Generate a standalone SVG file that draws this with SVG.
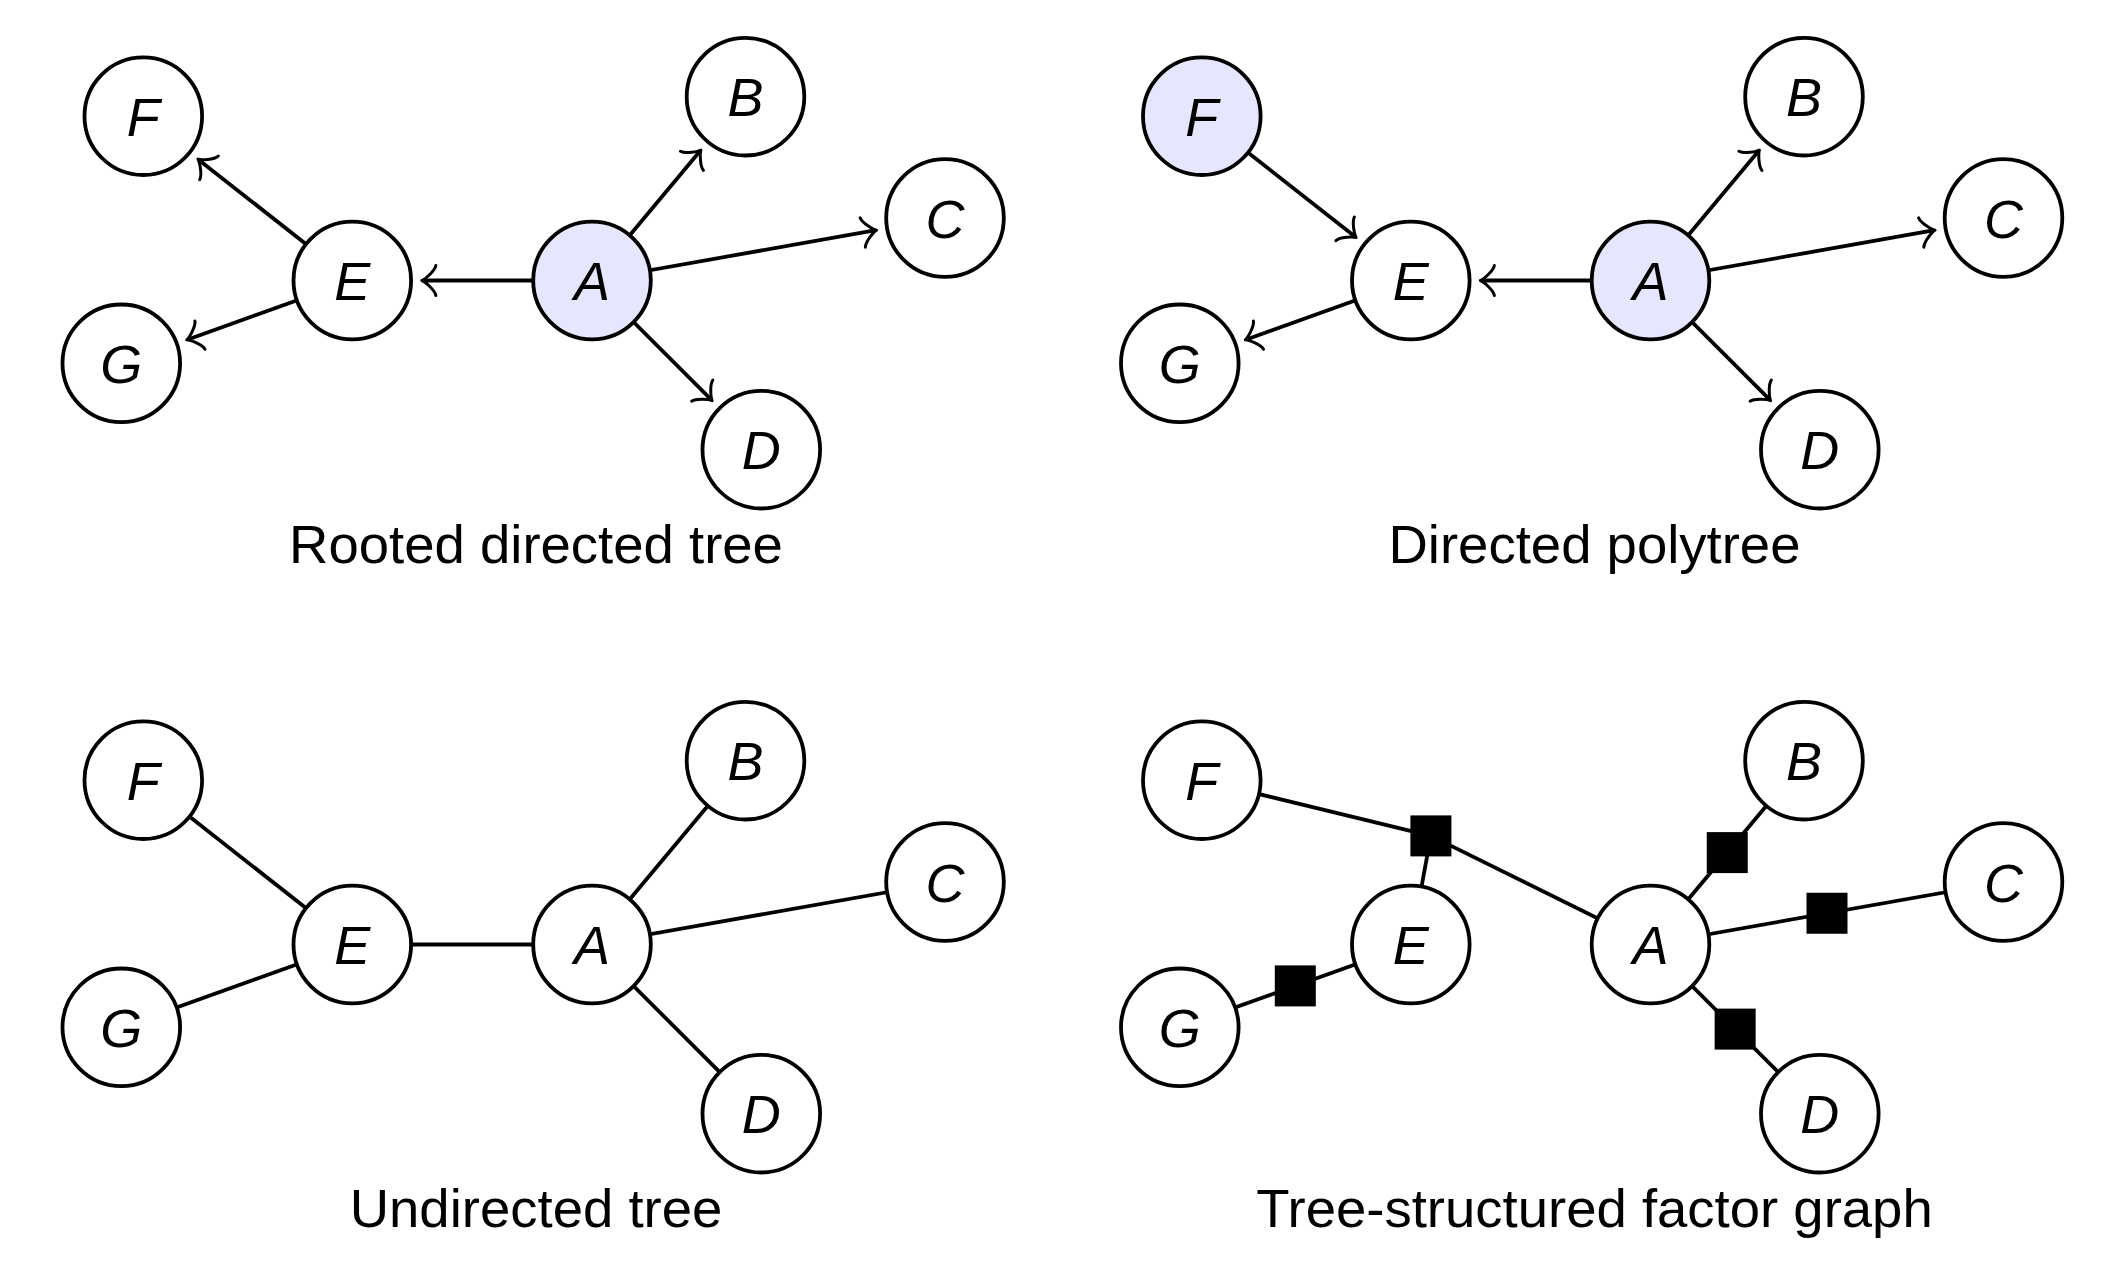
<svg xmlns="http://www.w3.org/2000/svg" width="2128" height="1268" viewBox="0 0 2128 1268">
<style>
.edge{stroke:#000;stroke-width:3.8;fill:none}
.arrow{marker-end:url(#arr)}
.node circle{fill:#fff;stroke:#000;stroke-width:3.8}
.node.root circle{fill:#e6e6ff}
.node text{font-family:"Liberation Sans",Arial,Helvetica,sans-serif;font-style:italic;font-size:54px;text-anchor:middle;fill:#000}
.factor{fill:#000}
.caption{font-family:"Liberation Sans",Arial,Helvetica,sans-serif;font-size:54.5px;text-anchor:middle;fill:#000}
</style>
<defs>
<marker id="arr" markerUnits="userSpaceOnUse" orient="auto" refX="-2" refY="0" markerWidth="40" markerHeight="40" viewBox="-20 -20 40 40" overflow="visible">
<path d="M -14.05 15 C -13.1 9.4 -2.8 0.94 0 0 C -2.8 -0.94 -13.1 -9.4 -14.05 -15" fill="none" stroke="#000" stroke-width="3" stroke-linecap="round" stroke-linejoin="round"/>
</marker>
</defs>
<rect width="2128" height="1268" fill="#fff"/>

<!-- Panel 1: Rooted directed tree -->
<g id="panel1">
<g id="p1-connectors">
<line class="edge arrow" x1="592" y1="280.5" x2="699.67" y2="151.58"/>
<line class="edge arrow" x1="592" y1="280.5" x2="874.59" y2="230.46"/>
<line class="edge arrow" x1="592" y1="280.5" x2="710.73" y2="399.16"/>
<line class="edge arrow" x1="592" y1="280.5" x2="423.8" y2="280.5"/>
<line class="edge arrow" x1="352.3" y1="280.5" x2="199.51" y2="160.39"/>
<line class="edge arrow" x1="352.3" y1="280.5" x2="188.61" y2="339.18"/>
</g>
<g id="p1-A" class="node root"><circle cx="592" cy="280.5" r="58.8"/><text x="592" y="300">A</text></g>
<g id="p1-B" class="node"><circle cx="745.5" cy="96.7" r="58.8"/><text x="745.5" y="116.2">B</text></g>
<g id="p1-C" class="node"><circle cx="945" cy="218" r="58.8"/><text x="945" y="237.5">C</text></g>
<g id="p1-D" class="node"><circle cx="761.3" cy="449.7" r="58.8"/><text x="761.3" y="469.2">D</text></g>
<g id="p1-E" class="node"><circle cx="352.3" cy="280.5" r="58.8"/><text x="352.3" y="300">E</text></g>
<g id="p1-F" class="node"><circle cx="143.3" cy="116.2" r="58.8"/><text x="143.3" y="135.7">F</text></g>
<g id="p1-G" class="node"><circle cx="121.3" cy="363.3" r="58.8"/><text x="121.3" y="382.8">G</text></g>
<text id="p1-caption" class="caption" x="536" y="563">Rooted directed tree</text>
</g>

<!-- Panel 2: Directed polytree -->
<g id="panel2" transform="translate(1058.5,0)">
<g id="p2-connectors">
<line class="edge arrow" x1="592" y1="280.5" x2="699.67" y2="151.58"/>
<line class="edge arrow" x1="592" y1="280.5" x2="874.59" y2="230.46"/>
<line class="edge arrow" x1="592" y1="280.5" x2="710.73" y2="399.16"/>
<line class="edge arrow" x1="592" y1="280.5" x2="423.8" y2="280.5"/>
<line class="edge arrow" x1="143.3" y1="116.2" x2="296.09" y2="236.31"/>
<line class="edge arrow" x1="352.3" y1="280.5" x2="188.61" y2="339.18"/>
</g>
<g id="p2-A" class="node root"><circle cx="592" cy="280.5" r="58.8"/><text x="592" y="300">A</text></g>
<g id="p2-B" class="node"><circle cx="745.5" cy="96.7" r="58.8"/><text x="745.5" y="116.2">B</text></g>
<g id="p2-C" class="node"><circle cx="945" cy="218" r="58.8"/><text x="945" y="237.5">C</text></g>
<g id="p2-D" class="node"><circle cx="761.3" cy="449.7" r="58.8"/><text x="761.3" y="469.2">D</text></g>
<g id="p2-E" class="node"><circle cx="352.3" cy="280.5" r="58.8"/><text x="352.3" y="300">E</text></g>
<g id="p2-F" class="node root"><circle cx="143.3" cy="116.2" r="58.8"/><text x="143.3" y="135.7">F</text></g>
<g id="p2-G" class="node"><circle cx="121.3" cy="363.3" r="58.8"/><text x="121.3" y="382.8">G</text></g>
<text id="p2-caption" class="caption" x="536" y="563">Directed polytree</text>
</g>

<!-- Panel 3: Undirected tree -->
<g id="panel3" transform="translate(0,664)">
<g id="p3-connectors">
<line class="edge" x1="592" y1="280.5" x2="745.5" y2="96.7"/>
<line class="edge" x1="592" y1="280.5" x2="945" y2="218"/>
<line class="edge" x1="592" y1="280.5" x2="761.3" y2="449.7"/>
<line class="edge" x1="592" y1="280.5" x2="352.3" y2="280.5"/>
<line class="edge" x1="352.3" y1="280.5" x2="143.3" y2="116.2"/>
<line class="edge" x1="352.3" y1="280.5" x2="121.3" y2="363.3"/>
</g>
<g id="p3-A" class="node"><circle cx="592" cy="280.5" r="58.8"/><text x="592" y="300">A</text></g>
<g id="p3-B" class="node"><circle cx="745.5" cy="96.7" r="58.8"/><text x="745.5" y="116.2">B</text></g>
<g id="p3-C" class="node"><circle cx="945" cy="218" r="58.8"/><text x="945" y="237.5">C</text></g>
<g id="p3-D" class="node"><circle cx="761.3" cy="449.7" r="58.8"/><text x="761.3" y="469.2">D</text></g>
<g id="p3-E" class="node"><circle cx="352.3" cy="280.5" r="58.8"/><text x="352.3" y="300">E</text></g>
<g id="p3-F" class="node"><circle cx="143.3" cy="116.2" r="58.8"/><text x="143.3" y="135.7">F</text></g>
<g id="p3-G" class="node"><circle cx="121.3" cy="363.3" r="58.8"/><text x="121.3" y="382.8">G</text></g>
<text id="p3-caption" class="caption" x="536" y="563">Undirected tree</text>
</g>

<!-- Panel 4: Tree-structured factor graph -->
<g id="panel4" transform="translate(1058.5,664)">
<g id="p4-connectors">
<line class="edge" x1="592" y1="280.5" x2="745.5" y2="96.7"/>
<line class="edge" x1="592" y1="280.5" x2="945" y2="218"/>
<line class="edge" x1="592" y1="280.5" x2="761.3" y2="449.7"/>
<line class="edge" x1="352.3" y1="280.5" x2="121.3" y2="363.3"/>
<line class="edge" x1="143.3" y1="116.2" x2="372.4" y2="171.9"/>
<line class="edge" x1="372.4" y1="171.9" x2="352.3" y2="280.5"/>
<line class="edge" x1="372.4" y1="171.9" x2="592" y2="280.5"/>
</g>
<g id="p4-f-FEA"><rect class="factor" x="351.9" y="151.4" width="41" height="41"/></g>
<g id="p4-f-AB"><rect class="factor" x="648.25" y="168.1" width="41" height="41"/></g>
<g id="p4-f-AC"><rect class="factor" x="748" y="228.75" width="41" height="41"/></g>
<g id="p4-f-AD"><rect class="factor" x="656.15" y="344.6" width="41" height="41"/></g>
<g id="p4-f-EG"><rect class="factor" x="216.3" y="301.4" width="41" height="41"/></g>
<g id="p4-A" class="node"><circle cx="592" cy="280.5" r="58.8"/><text x="592" y="300">A</text></g>
<g id="p4-B" class="node"><circle cx="745.5" cy="96.7" r="58.8"/><text x="745.5" y="116.2">B</text></g>
<g id="p4-C" class="node"><circle cx="945" cy="218" r="58.8"/><text x="945" y="237.5">C</text></g>
<g id="p4-D" class="node"><circle cx="761.3" cy="449.7" r="58.8"/><text x="761.3" y="469.2">D</text></g>
<g id="p4-E" class="node"><circle cx="352.3" cy="280.5" r="58.8"/><text x="352.3" y="300">E</text></g>
<g id="p4-F" class="node"><circle cx="143.3" cy="116.2" r="58.8"/><text x="143.3" y="135.7">F</text></g>
<g id="p4-G" class="node"><circle cx="121.3" cy="363.3" r="58.8"/><text x="121.3" y="382.8">G</text></g>
<text id="p4-caption" class="caption" x="536" y="563">Tree-structured factor graph</text>
</g>
</svg>
